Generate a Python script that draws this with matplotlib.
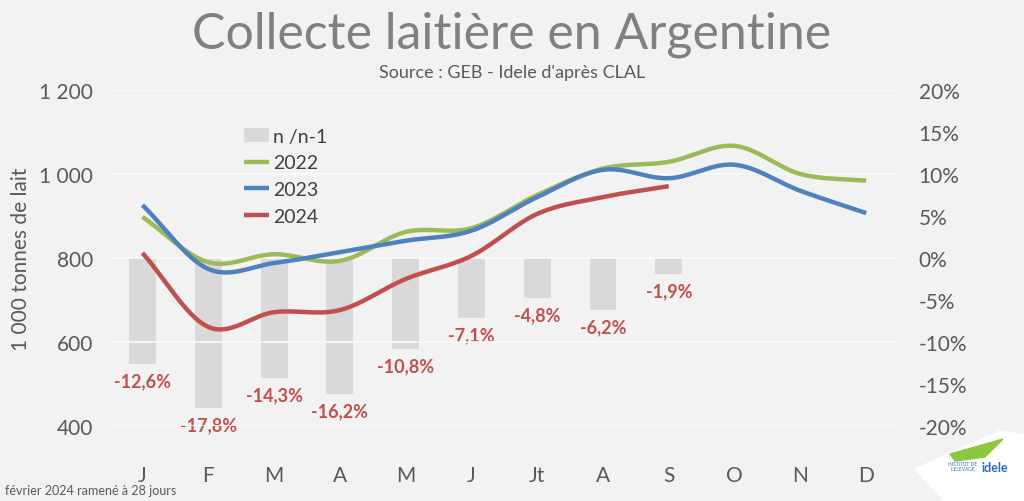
import numpy as np
import matplotlib.pyplot as plt
from matplotlib.patches import Polygon

months = ['J', 'F', 'M', 'A', 'M', 'J', 'Jt', 'A', 'S', 'O', 'N', 'D']
collecte_2022 = [898, 790, 809, 793, 862, 871, 950, 1013, 1029, 1067, 1000, 984]
collecte_2023 = [926, 774, 788, 814, 841, 865, 945, 1010, 990, 1022, 960, 907]
collecte_2024 = [812, 636, 671, 676, 750, 805, 905, 945, 971]
evol = [-12.6, -17.8, -14.3, -16.2, -10.8, -7.1, -4.8, -6.2, -1.9]

green = '#9bbb59'
blue = '#4f81bd'
red = '#c0504d'
grey = '#595959'


def smooth(y, n=30):
    # catmull-rom style smoothing, like Excel smoothed lines
    y = np.asarray(y, dtype=float)
    x = np.arange(len(y), dtype=float)
    p = np.vstack([x, y]).T
    p = np.vstack([p[0] - (p[1] - p[0]), p, p[-1] + (p[-1] - p[-2])])
    out = []
    t = np.linspace(0, 1, n)[:, None]
    for i in range(1, len(p) - 2):
        p0, p1, p2, p3 = p[i - 1], p[i], p[i + 1], p[i + 2]
        seg = 0.5 * ((2 * p1) + (-p0 + p2) * t + (2 * p0 - 5 * p1 + 4 * p2 - p3) * t ** 2
                     + (-p0 + 3 * p1 - 3 * p2 + p3) * t ** 3)
        out.append(seg)
    out = np.vstack(out)
    return out[:, 0], out[:, 1]


fig = plt.figure(figsize=(10.24, 5.02), dpi=100, facecolor='#f2f2f2')
ax = fig.add_axes([0.107, 0.1494, 0.771, 0.6693])
ax.set_facecolor('#f2f2f2')
ax2 = ax.twinx()

x = np.arange(len(months))

# bars on the right axis
ax2.bar(x[:len(evol)], evol, width=0.41, color='#d9d9d9', label='n /n-1', zorder=1)
for xi, v in zip(x, evol):
    ax2.text(xi, v - 1.0, f'{v:.1f}%'.replace('.', ','), ha='center', va='top',
             color=red, fontsize=13, fontweight='bold', family='Lato')
ax2.set_ylim(-20, 20)
ax2.set_yticks(np.arange(-20, 21, 5))
ax2.set_yticklabels([f'{v}%' for v in range(-20, 21, 5)])

# lines on the left axis, drawn above the bars
ax.set_zorder(ax2.get_zorder() + 1)
ax.patch.set_visible(False)
for data, c, lab in [(collecte_2022, green, '2022'), (collecte_2023, blue, '2023'),
                     (collecte_2024, red, '2024')]:
    xs, ys = smooth(data)
    ax.plot(xs, ys, color=c, lw=3.2, label=lab, solid_capstyle='butt')

ax.set_ylim(400, 1200)
ax.set_yticks(range(400, 1201, 200))
ax.set_yticklabels(['400', '600', '800', '1 000', '1 200'])
ax.set_xlim(-0.5, 11.5)
ax.set_xticks(x)
ax.set_xticklabels(months)
ax.grid(axis='y', color='#fafafa', lw=1.2)
ax.set_ylabel('1 000 tonnes de lait', fontsize=15, color=grey, family='Lato', labelpad=6)

for a in (ax, ax2):
    for s in a.spines.values():
        s.set_visible(False)
    a.tick_params(length=0, labelsize=15, labelcolor=grey)
    for lbl in a.get_yticklabels() + a.get_xticklabels():
        lbl.set_family('Lato')
ax.tick_params(axis='x', pad=28)
ax.tick_params(axis='y', pad=12)
ax2.tick_params(axis='y', pad=14)

h1, l1 = ax2.get_legend_handles_labels()
h2, l2 = ax.get_legend_handles_labels()
leg = ax.legend(h1 + h2, l1 + l2, loc='upper left', bbox_to_anchor=(0.148, 0.94),
                frameon=False, prop={'family': 'Lato', 'size': 14},
                handlelength=1.3, handletextpad=0.2, labelspacing=0.5)
for t in leg.get_texts():
    t.set_color('#404040')

fig.text(0.5, 0.93, 'Collecte laitière en Argentine', ha='center', va='center',
         fontsize=36, color='#808080', family='Lato')
fig.text(0.5, 0.855, "Source : GEB - Idele d'après CLAL", ha='center', va='center',
         fontsize=13, color=grey, family='Lato')
fig.text(0.005, 0.022, 'février 2024 ramené à 28 jours', ha='left', va='center',
         fontsize=9, color=grey, family='Lato')

# simplified logo
logo = [(915, 470), (1000, 432), (1024, 436), (1024, 502), (945, 502)]
fig.patches.append(Polygon([(px / 1024, 1 - py / 502) for px, py in logo],
                           closed=True, transform=fig.transFigure, color='white'))
fig.patches.append(Polygon([(px / 1024, 1 - py / 502) for px, py in
                            [(950, 455), (975, 448), (1003, 440), (985, 458), (955, 462)]],
                           closed=True, transform=fig.transFigure, color='#8dc63f'))
fig.text(0.972, 0.068, 'idele', ha='center', va='center', fontsize=9,
         color='#2a6ebb', fontweight='bold', family='Lato')
fig.text(0.94, 0.07, "INSTITUT DE\nL'ELEVAGE", ha='center', va='center', fontsize=3.5,
         color='#2a6ebb', family='Lato', linespacing=1.0)

fig.savefig('out.png', dpi=100, facecolor=fig.get_facecolor())
